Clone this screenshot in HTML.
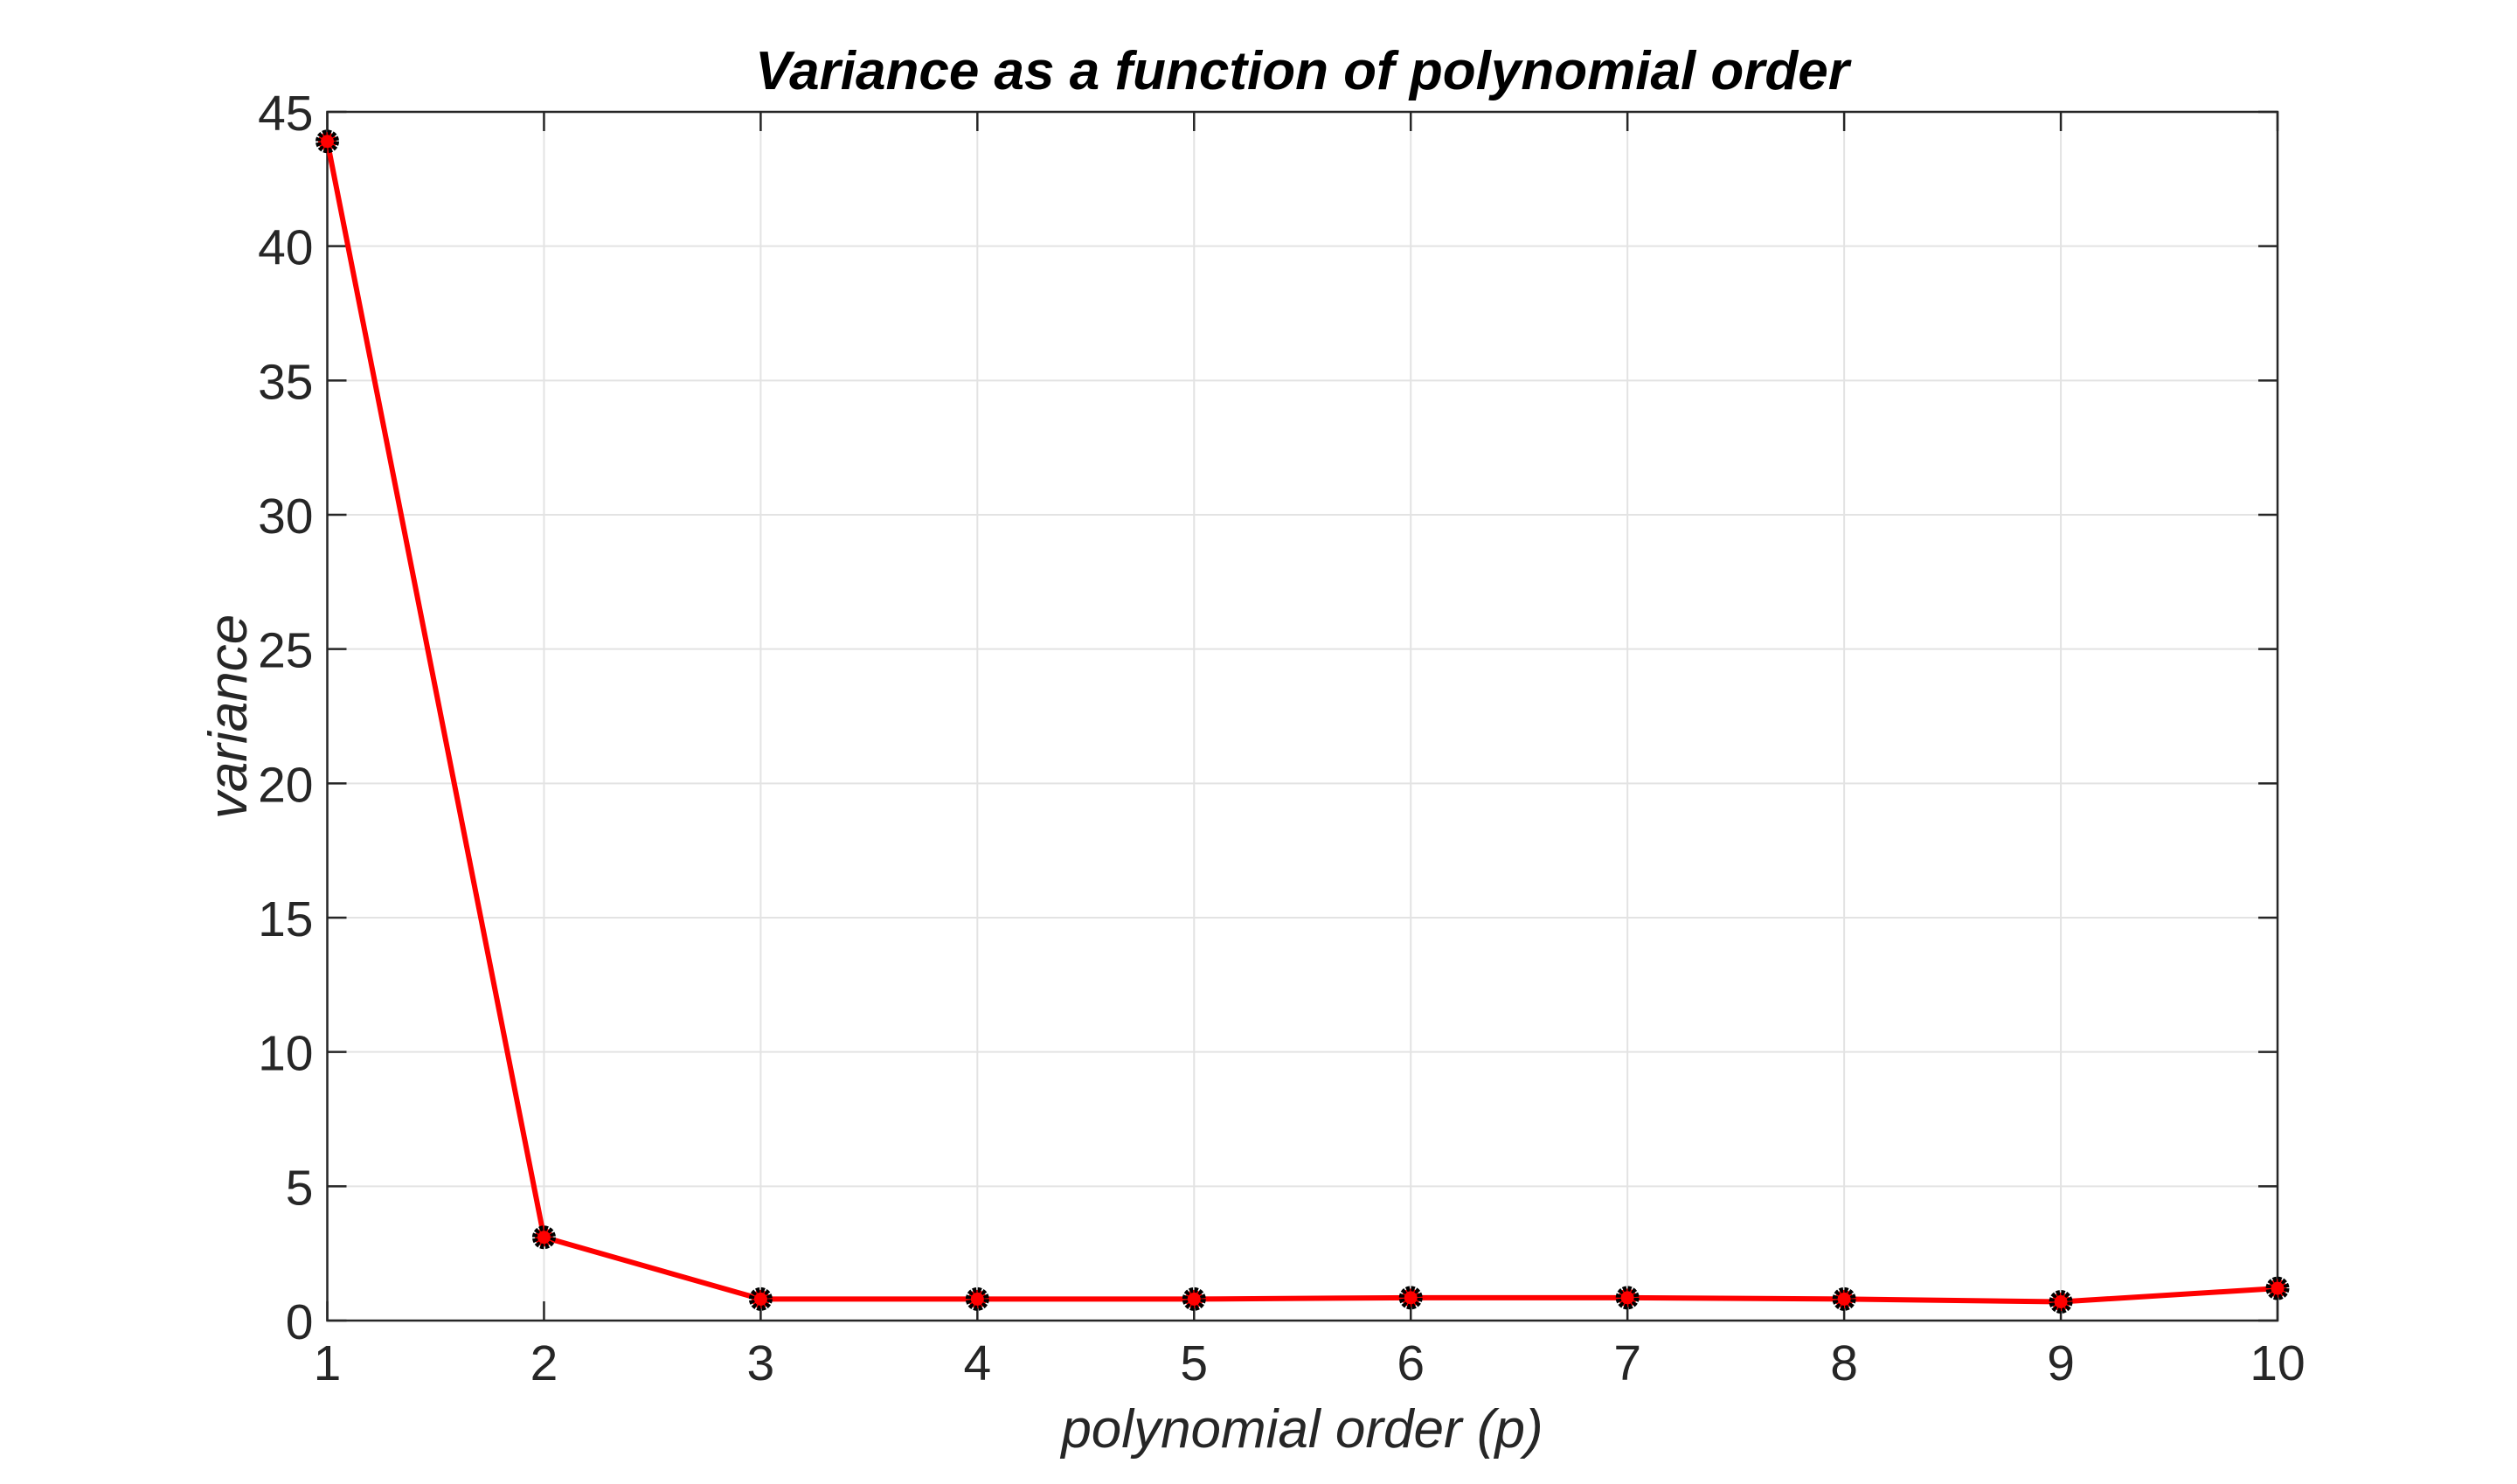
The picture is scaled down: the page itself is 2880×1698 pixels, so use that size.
<!DOCTYPE html>
<html><head><meta charset="utf-8"><style>
html,body{margin:0;padding:0;background:#fff;}
svg{display:block;font-family:"Liberation Sans",Arial,sans-serif;}
</style></head><body>
<svg id="chart" width="2880" height="1698" viewBox="0 0 2880 1698" xmlns="http://www.w3.org/2000/svg">
<rect width="2880" height="1698" fill="#fff"/>
<g id="grid"></g>
<g id="ticks"></g>
<rect x="374.5" y="128" width="2231.5" height="1383" fill="none" stroke="#262626" stroke-width="2.5"/>
<g id="series"></g>
<text x="1490" y="102" text-anchor="middle" font-size="62" font-weight="bold" font-style="italic" fill="#000">Variance as a function of polynomial order</text>
<text x="1490" y="1656" text-anchor="middle" font-size="62" font-style="italic" fill="#262626">polynomial order (p)</text>
<text transform="translate(282,820) rotate(-90)" text-anchor="middle" font-size="62" font-style="italic" fill="#262626">variance</text>
</svg>
<script>
const categories = [1,2,3,4,5,6,7,8,9,10];
const variance = [43.9,3.1,0.8,0.8,0.8,0.85,0.85,0.8,0.7,1.2];
const xTicks = [1,2,3,4,5,6,7,8,9,10];
const yTicks = [0,5,10,15,20,25,30,35,40,45];

const L=374.5,R=2606,T=128,B=1511;
const xs=v=>L+(v-1)/9*(R-L);
const ys=v=>B-v/45*(B-T);
const NS='http://www.w3.org/2000/svg';
function mk(tag,attrs,parent){const e=document.createElementNS(NS,tag);for(const k in attrs)e.setAttribute(k,attrs[k]);parent.appendChild(e);return e;}
const grid=document.getElementById('grid'),ticks=document.getElementById('ticks'),series=document.getElementById('series');
xTicks.forEach(t=>{
  const x=xs(t);
  const g=mk('line',{x1:x,x2:x,y1:T,y2:B,stroke:'#e3e3e3','stroke-width':2},grid);
  
  
  mk('line',{x1:x,x2:x,y1:B,y2:B-22,stroke:'#262626','stroke-width':2.5},ticks);
  mk('line',{x1:x,x2:x,y1:T,y2:T+22,stroke:'#262626','stroke-width':2.5},ticks);
  const lb=mk('text',{x:x,y:B+68,'text-anchor':'middle','font-size':57,fill:'#262626'},ticks);
  lb.textContent=t;
  
  
});
yTicks.forEach(t=>{
  const y=ys(t);
  const g=mk('line',{x1:L,x2:R,y1:y,y2:y,stroke:'#e3e3e3','stroke-width':2},grid);
  
  
  mk('line',{x1:L,x2:L+22,y1:y,y2:y,stroke:'#262626','stroke-width':2.5},ticks);
  mk('line',{x1:R,x2:R-22,y1:y,y2:y,stroke:'#262626','stroke-width':2.5},ticks);
  const lb=mk('text',{x:L-16,y:y+21,'text-anchor':'end','font-size':57,fill:'#262626'},ticks);
  lb.textContent=t;
  
  
});
const pts=categories.map((c,i)=>xs(c)+','+ys(variance[i])).join(' ');
const line=mk('polyline',{points:pts,fill:'none',stroke:'#ff0000','stroke-width':6,'stroke-linejoin':'round'},series);


categories.forEach((c,i)=>{
  const m=mk('circle',{cx:xs(c),cy:ys(variance[i]),r:10.5,fill:'#ff0000',stroke:'#000','stroke-width':6,'stroke-dasharray':'4 1.5'},series);
  
  
});
</script>
</body></html>
